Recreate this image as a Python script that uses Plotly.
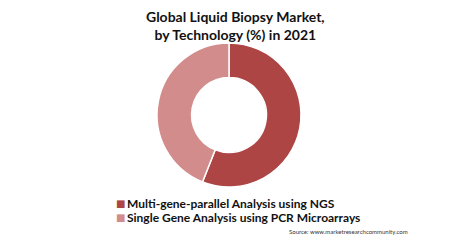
import plotly.graph_objects as go

labels = ["Multi-gene-parallel Analysis using NGS", "Single Gene Analysis using PCR Microarrays"]
values = [56, 44]
colors = ["#AD4545", "#D38C8C"]

W, H = 474, 240
cx, cy, r = 229, 115, 72

fig = go.Figure(go.Pie(
    labels=labels, values=values, hole=0.52, sort=False, direction="clockwise",
    rotation=0, marker=dict(colors=colors, line=dict(color="white", width=1.5)),
    textinfo="none", hoverinfo="label+percent", showlegend=False,
    domain=dict(x=[(cx - r) / W, (cx + r) / W], y=[(H - cy - r) / H, (H - cy + r) / H]),
))

annotations = [
    dict(text="<b>Global Liquid Biopsy Market,<br>by Technology (%) in 2021</b>",
         x=235 / W, y=1 - 6 / H, xref="paper", yref="paper", xanchor="center", yanchor="top",
         showarrow=False, font=dict(family="Lato", size=14, color="#111111")),
    dict(text="Source: www.marketresearchcommunity.com",
         x=410 / W, y=1 - 237 / H, xref="paper", yref="paper", xanchor="right", yanchor="bottom",
         showarrow=False, font=dict(family="Lato", size=6, color="#333333")),
]
legend_y = [203, 217]
for lab, col, ly in zip(labels, colors, legend_y):
    annotations.append(dict(text="■", x=114 / W, y=1 - ly / H, xref="paper", yref="paper",
                            xanchor="left", yanchor="middle", showarrow=False,
                            font=dict(family="DejaVu Sans", size=10, color=col)))
    annotations.append(dict(text="<b>" + lab + "</b>", x=125 / W, y=1 - ly / H, xref="paper", yref="paper",
                            xanchor="left", yanchor="middle", showarrow=False,
                            font=dict(family="Lato", size=12, color="#111111")))

fig.update_layout(
    width=W, height=H, margin=dict(l=0, r=0, t=0, b=0),
    paper_bgcolor="white", plot_bgcolor="white",
    font=dict(family="Lato", color="#111111"),
    showlegend=False,
    annotations=annotations,
)

fig.write_html("out.html")
